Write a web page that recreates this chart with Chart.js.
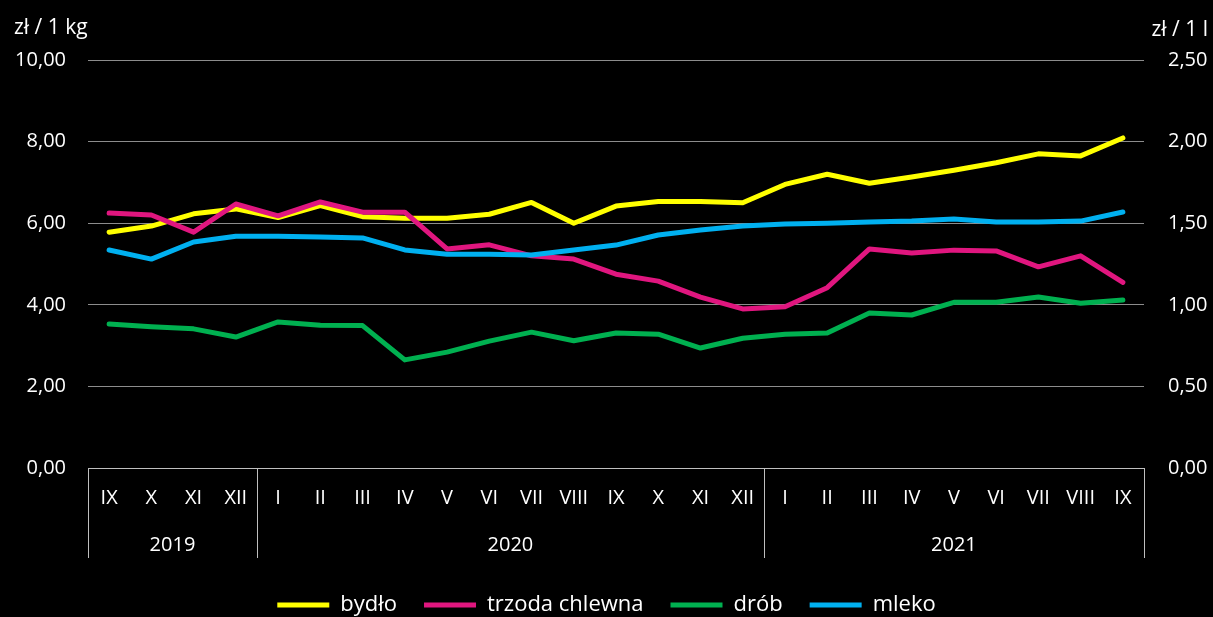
<!DOCTYPE html>
<html><head><meta charset="utf-8">
<script src="https://cdn.jsdelivr.net/npm/chart.js@4"></script>
<style>html,body{margin:0;padding:0;background:#000;}#w{width:1213px;height:617px;}</style>
</head><body><div id="w"><canvas id="c" width="1213" height="617"></canvas></div>
<script>
const months = ['IX','X','XI','XII','I','II','III','IV','V','VI','VII','VIII','IX','X','XI','XII','I','II','III','IV','V','VI','VII','VIII','IX'];
const years = ['2019','2020','2021'];
const yearCounts = [4,12,9];
const bydlo = [5.78,5.93,6.23,6.35,6.14,6.43,6.16,6.12,6.12,6.22,6.51,6.00,6.42,6.53,6.53,6.50,6.95,7.20,6.98,7.13,7.30,7.48,7.70,7.65,8.09];
const trzoda = [6.25,6.20,5.78,6.47,6.18,6.52,6.27,6.27,5.37,5.47,5.20,5.12,4.75,4.58,4.19,3.90,3.95,4.42,5.37,5.27,5.34,5.32,4.93,5.20,4.55];
const drob = [3.53,3.46,3.41,3.21,3.58,3.50,3.49,2.65,2.84,3.11,3.33,3.12,3.31,3.28,2.94,3.18,3.28,3.31,3.80,3.75,4.06,4.06,4.19,4.04,4.12];
const mleko = [1.336,1.28,1.385,1.42,1.42,1.415,1.41,1.336,1.31,1.31,1.305,1.336,1.366,1.428,1.458,1.483,1.495,1.50,1.507,1.513,1.526,1.507,1.507,1.513,1.569];
const leftTitle = 'zł / 1 kg';
const rightTitle = 'zł / 1 l';

const FONT = '"Open Sans"';
const fmt = v => Number(v).toFixed(2).replace('.', ',');

const extras = {
  id: 'extras',
  afterDraw(chart) {
    const ctx = chart.ctx, x = chart.scales.x, area = chart.chartArea;
    ctx.save();
    ctx.fillStyle = '#fff';
    ctx.font = '21px ' + FONT;
    ctx.textBaseline = 'middle';
    ctx.textAlign = 'left';
    ctx.fillText(leftTitle, 14, 28);
    ctx.textAlign = 'right';
    ctx.fillText(rightTitle, 1208, 30);
    // year groups
    ctx.font = '20px ' + FONT;
    const bottom = area.bottom + 90;
    ctx.strokeStyle = '#bfbfbf';
    ctx.lineWidth = 1;
    const half = (x.getPixelForValue(1) - x.getPixelForValue(0)) / 2;
    let idx = 0;
    const bounds = [area.left];
    ctx.textAlign = 'center';
    years.forEach((y, i) => {
      const start = idx, end = idx + yearCounts[i] - 1;
      const xl = i === 0 ? area.left : x.getPixelForValue(start) - half;
      const xr = i === years.length - 1 ? area.right : x.getPixelForValue(end) + half;
      ctx.fillText(y, (xl + xr) / 2, area.bottom + 77);
      bounds.push(xr);
      idx += yearCounts[i];
    });
    bounds.forEach(b => {
      const bx = Math.round(b) + 0.5;
      ctx.beginPath(); ctx.moveTo(bx, area.bottom); ctx.lineTo(bx, bottom); ctx.stroke();
    });
    ctx.beginPath(); ctx.moveTo(area.left, area.bottom + 0.5); ctx.lineTo(area.right, area.bottom + 0.5); ctx.stroke();
    ctx.restore();
  }
};

const ds = (label, data, color, axis, order) => ({
  label, data, borderColor: color, backgroundColor: color, yAxisID: axis, order,
  borderWidth: 5, pointRadius: 0, pointHoverRadius: 0, tension: 0,
  borderCapStyle: 'round', borderJoinStyle: 'round', fill: false
});

Chart.defaults.font.family = FONT;
Chart.defaults.color = '#fff';

new Chart(document.getElementById('c'), {
  type: 'line',
  data: {
    labels: months,
    datasets: [
      ds('bydło', bydlo, '#FFFF00', 'y', 4),
      ds('trzoda chlewna', trzoda, '#E0167F', 'y', 3),
      ds('drób', drob, '#00B050', 'y', 2),
      ds('mleko', mleko, '#00B0F0', 'y1', 1)
    ]
  },
  options: {
    responsive: false,
    animation: false,
    events: [],
    layout: { padding: { top: 60, left: 0, right: 0, bottom: -9 } },
    scales: {
      x: {
        offset: true,
        grid: { display: false, drawTicks: false },
        border: { display: false },
        ticks: { color: '#fff', font: { size: 20 }, padding: 18, maxRotation: 0, autoSkip: false },
        afterFit(s) { s.height = 99; }
      },
      y: {
        position: 'left', min: 0, max: 10,
        ticks: { stepSize: 2, color: '#fff', font: { size: 20 }, padding: 22, callback: fmt },
        grid: { color: '#8c8c8c', lineWidth: 1, drawTicks: false },
        border: { display: false },
        afterFit(s) { s.width = 88; }
      },
      y1: {
        position: 'right', min: 0, max: 2.5,
        ticks: { stepSize: 0.5, color: '#fff', font: { size: 20 }, padding: 24, callback: fmt },
        grid: { display: false, drawTicks: false },
        border: { display: false },
        afterFit(s) { s.width = 69; }
      }
    },
    plugins: {
      tooltip: { enabled: false },
      legend: {
        position: 'bottom',
        labels: {
          color: '#fff', font: { size: 22 }, boxWidth: 52, boxHeight: 5, padding: 27,
          generateLabels(chart) {
            return chart.data.datasets.map((d, i) => ({
              text: d.label, fillStyle: d.borderColor, strokeStyle: d.borderColor,
              lineWidth: 0, datasetIndex: i, fontColor: '#fff'
            }));
          }
        }
      }
    }
  },
  plugins: [extras]
});
</script>
</body></html>
